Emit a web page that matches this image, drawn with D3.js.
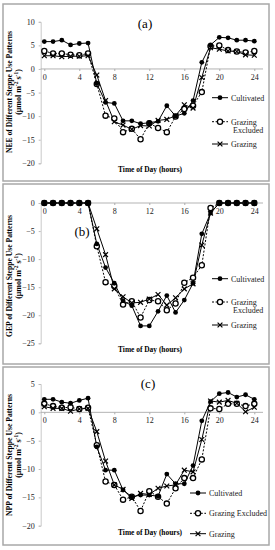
<!DOCTYPE html>
<html><head><meta charset="utf-8">
<script src="https://cdn.jsdelivr.net/npm/d3@7"></script>
<style>body{margin:0;background:#fff}svg{display:block}</style>
</head><body>
<script>
const hours = d3.range(0, 25);
const seriesNames = ["Cultivated", "Grazing Excluded", "Grazing"];

const neeCultivated = [5.8,5.8,6.1,5.1,5.4,5.5,-3.1,-7.1,-7.3,-11.0,-11.0,-11.6,-11.4,-11.1,-7.8,-10.0,-9.4,-6.7,1.4,5.1,6.7,6.6,6.1,6.1,5.9];
const neeExcluded   = [3.8,3.3,3.3,3.0,2.9,3.3,-3.2,-9.9,-10.5,-13.4,-12.7,-14.9,-11.5,-12.5,-13.4,-10.1,-8.5,-7.8,-4.9,4.8,5.0,4.0,3.7,3.5,3.8];
const neeGrazing    = [2.8,2.8,2.6,2.7,2.7,2.8,-1.3,-6.7,-11.2,-11.9,-12.8,-12.0,-12.1,-10.9,-10.7,-9.9,-7.6,-8.3,-1.8,4.5,4.2,3.8,3.7,3.0,2.9];

const gepCultivated = [0,0,0,0,0,0,-7.3,-11.5,-14.3,-17.4,-18.3,-21.9,-21.9,-19.3,-16.5,-19.5,-17.3,-14.3,-5.5,-1.8,0,0,0,0,0];
const gepExcluded   = [0,0,0,0,0,0,-7.7,-14.1,-14.8,-18.1,-17.5,-20.4,-17.3,-17.5,-19.1,-17.9,-14.2,-13.3,-11.1,-0.9,0,0,0,0,0];
const gepGrazing    = [0,0,0,0,0,0,-4.6,-9.2,-15.3,-16.7,-17.8,-17.7,-17.1,-16.3,-18.2,-16.9,-15.3,-14.4,-7.5,-1.8,0,0,0,0,0];

const nppCultivated = [2.3,2.3,1.8,1.6,2.1,2.5,-6.1,-10.2,-10.2,-13.7,-14.9,-14.6,-14.6,-14.8,-10.9,-12.6,-12.6,-9.4,-1.5,1.9,3.3,3.5,2.7,3.1,2.3];
const nppExcluded   = [1.5,1.1,0.8,0.9,0.6,0.8,-5.8,-12.2,-12.8,-15.4,-14.9,-17.4,-13.9,-14.9,-16.1,-13.4,-11.6,-11.6,-8.3,0.7,0.6,1.5,1.5,1.1,1.5];
const nppGrazing    = [1.0,0.7,0.7,0.2,0.6,0.7,-3.4,-8.6,-12.8,-13.6,-15.2,-14.3,-14.5,-13.4,-13.0,-12.8,-10.2,-10.5,-4.8,2.0,1.8,2.1,1.6,0.1,0.9];

const xTicks = [0,4,8,12,16,20,24];
const neeTicks = [10,5,0,-5,-10,-15,-20];
const gepTicks = [0,-5,-10,-15,-20,-25];
const nppTicks = [5,0,-5,-10,-15,-20];

const panels = [
  {label:"(a)", metric:"NEE", data:[neeCultivated,neeExcluded,neeGrazing], ticks:neeTicks, domain:[-20,10],
   top:21.8, bottom:163.3, frame:[3,4,266,177], labelPos:[145,28], titleY:92, xTitleY:172,
   legend:{x:212, ys:[97.7,121.7,144], split:true}},
  {label:"(b)", metric:"GEP", data:[gepCultivated,gepExcluded,gepGrazing], ticks:gepTicks, domain:[-25,0],
   top:203, bottom:343.3, frame:[3,184,266,180], labelPos:[82,236], titleY:276, xTitleY:352,
   legend:{x:212, ys:[278.7,302,325], split:true}},
  {label:"(c)", metric:"NPP", data:[nppCultivated,nppExcluded,nppGrazing], ticks:nppTicks, domain:[-20,5],
   top:384, bottom:525.7, frame:[3,367,266,178], labelPos:[148,388], titleY:455, xTitleY:535,
   legend:{x:190, ys:[493,513.3,533.7], split:false}}
];

const W = 275, H = 550;
const svg = d3.select("body").append("svg").attr("width", W).attr("height", H);
const FONT = "'Liberation Serif', 'DejaVu Serif', serif";
const x = d3.scaleLinear().domain([0,24]).range([44.3,254.3]);

function marker(g, type, cx, cy) {
  if (type === 0) {
    g.append("circle").attr("cx", cx).attr("cy", cy).attr("r", 2.4).attr("fill", "#000");
  } else if (type === 1) {
    g.append("circle").attr("cx", cx).attr("cy", cy).attr("r", 2.6).attr("fill", "#fff").attr("stroke", "#000").attr("stroke-width", 1.3);
  } else {
    const s = 2.4;
    g.append("path").attr("d", `M${cx-s},${cy-s}L${cx+s},${cy+s}M${cx-s},${cy+s}L${cx+s},${cy-s}`)
      .attr("stroke", "#000").attr("stroke-width", 1.2);
  }
}

panels.forEach(p => {
  const g = svg.append("g");
  const [fx, fy, fw, fh] = p.frame;
  g.append("rect").attr("x", fx).attr("y", fy).attr("width", fw).attr("height", fh)
    .attr("fill", "#fff").attr("stroke", "#a8a8a8").attr("stroke-width", 1.5);

  const y = d3.scaleLinear().domain(p.domain).range([p.bottom, p.top]);

  const ya = g.append("g").attr("transform", `translate(40.7,0)`)
    .call(d3.axisLeft(y).tickValues(p.ticks).tickSize(2).tickFormat(d3.format("d")));
  ya.select(".domain").attr("stroke", "#bbb").attr("stroke-width", 0.8);
  ya.selectAll(".tick line").attr("stroke", "#bbb");
  ya.selectAll("text").attr("font-family", FONT).attr("font-size", 8).attr("fill", "#222").attr("x", -6);

  const xa = g.append("g").attr("transform", `translate(0,${y(0)})`)
    .call(d3.axisBottom(x).tickValues(xTicks).tickSize(2).tickFormat(d3.format("d")));
  xa.select(".domain").attr("stroke", "#aaa").attr("stroke-width", 0.9).attr("d", `M40.7,0H263`);
  xa.selectAll(".tick line").attr("stroke", "#aaa");
  xa.selectAll("text").attr("font-family", FONT).attr("font-size", 8).attr("fill", "#222").attr("y", 5);

  const line = d3.line().x((d,i) => x(hours[i])).y(d => y(d));
  [2,1,0].forEach(k => {
    g.append("path").datum(p.data[k]).attr("d", line).attr("fill", "none")
      .attr("stroke", "#000").attr("stroke-width", 1)
      .attr("stroke-dasharray", k === 1 ? "2,1.6" : null);
  });
  [1,2,0].forEach(k => {
    const mg = g.append("g");
    p.data[k].forEach((v,i) => marker(mg, k, x(hours[i]), y(v)));
  });

  g.append("text").attr("x", p.labelPos[0]).attr("y", p.labelPos[1]).attr("text-anchor", "middle")
    .attr("font-family", FONT).attr("font-size", 13).text(p.label);

  g.append("text").attr("transform", `translate(12,${p.titleY}) rotate(-90)`)
    .attr("text-anchor", "middle").attr("font-family", FONT).attr("font-size", 8).attr("font-weight", "bold")
    .attr("textLength", 122).attr("lengthAdjust", "spacingAndGlyphs")
    .text(`${p.metric} of  Different Steppe Use Patterns`);
  const t2 = g.append("text").attr("transform", `translate(20.5,${p.titleY}) rotate(-90)`)
    .attr("text-anchor", "middle").attr("font-family", FONT).attr("font-size", 8).attr("font-weight", "bold");
  t2.append("tspan").text("(μmol m");
  t2.append("tspan").attr("font-size", 5.5).attr("dy", -3).text("-2");
  t2.append("tspan").attr("dy", 3).text(" s");
  t2.append("tspan").attr("font-size", 5.5).attr("dy", -3).text("-1");
  t2.append("tspan").attr("dy", 3).text(")");

  g.append("text").attr("x", 150).attr("y", p.xTitleY).attr("text-anchor", "middle")
    .attr("font-family", FONT).attr("font-size", 8).attr("font-weight", "bold")
    .attr("textLength", 64).attr("lengthAdjust", "spacingAndGlyphs").text("Time of Day (hours)");

  const L = p.legend;
  seriesNames.forEach((name, k) => {
    const ly = L.ys[k];
    const lx0 = L.x, lx1 = L.x + 16;
    g.append("line").attr("x1", lx0).attr("x2", lx1).attr("y1", ly).attr("y2", ly)
      .attr("stroke", "#000").attr("stroke-width", 1).attr("stroke-dasharray", k === 1 ? "2,1.6" : null);
    marker(g, k, (lx0 + lx1) / 2, ly);
    const tx = g.append("text").attr("x", lx1 + 3).attr("y", ly + 2.8)
      .attr("font-family", FONT).attr("font-size", 8).attr("fill", "#222");
    if (k === 1 && L.split) {
      tx.append("tspan").attr("x", lx1 + 3).text("Grazing");
      tx.append("tspan").attr("x", lx1 + 5).attr("dy", 8).text("Excluded");
    } else {
      tx.text(name);
    }
  });
});
</script>
</body></html>
